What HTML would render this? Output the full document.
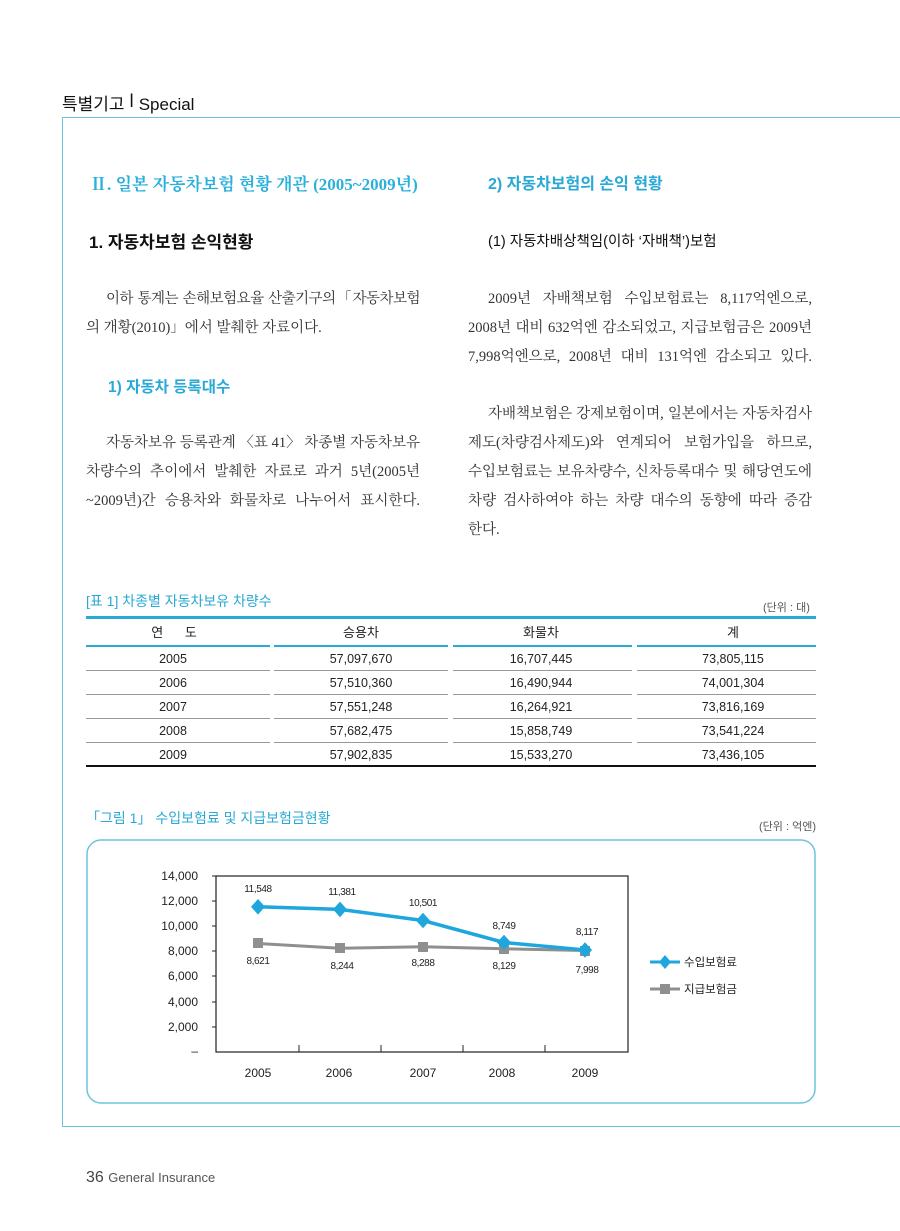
<!DOCTYPE html>
<html><head><meta charset="utf-8"><style>
body{margin:0;width:900px;height:1231px;background:#fff;position:relative;overflow:hidden;font-family:"Liberation Sans","Noto Sans CJK KR",sans-serif;color:#222}
.a{position:absolute;white-space:nowrap}
.blue{color:#29a9d6}
.j{position:absolute;height:29px;line-height:29px;text-align:justify;text-align-last:justify;white-space:nowrap;font-family:"Liberation Serif","Noto Serif CJK SC","Noto Sans CJK KR",serif;font-size:14.5px;color:#333}
.L{left:86px;width:334px}.R{left:468px;width:344px}
.n{text-align-last:left}
</style></head><body>
<div class="a" style="left:62px;top:90px;font-size:17px;color:#111">특별기고 <span style="font-size:18px;position:relative;top:-3px">ǀ</span> Special</div>
<div class="a" style="left:62px;top:117px;width:838px;height:1008px;border-top:1.5px solid #6cc3de;border-left:1.5px solid #6cc3de;border-bottom:1.5px solid #6cc3de"></div>

<div class="a" style="left:90px;top:170px;font-size:17px;color:#2ab0dc;font-family:'Liberation Serif','Noto Serif CJK SC',serif;font-weight:bold">Ⅱ. 일본 자동차보험 현황 개관 (2005~2009년)</div>
<div class="a" style="left:89px;top:228px;font-size:17px;font-weight:bold;color:#111">1. 자동차보험 손익현황</div>
<div class="j L" style="top:285px;padding-left:20px;width:314px;letter-spacing:-0.5px">이하 통계는 손해보험요율 산출기구의「자동차보험</div>
<div class="j L n" style="top:314px">의 개황(2010)」에서 발췌한 자료이다.</div>
<div class="a blue" style="left:108px;top:375px;font-size:15.5px;font-weight:bold">1) 자동차 등록대수</div>
<div class="j L" style="top:429px;padding-left:20px;width:314px">자동차보유 등록관계 〈표 41〉 차종별 자동차보유</div>
<div class="j L" style="top:458px">차량수의 추이에서 발췌한 자료로 과거 5년(2005년</div>
<div class="j L" style="top:487px">~2009년)간 승용차와 화물차로 나누어서 표시한다.</div>

<div class="a blue" style="left:488px;top:170px;font-size:16px;font-weight:bold">2) 자동차보험의 손익 현황</div>
<div class="a" style="left:488px;top:230px;font-size:14.5px;color:#111">(1) 자동차배상책임(이하 ‘자배책’)보험</div>
<div class="j R" style="top:285px;padding-left:20px;width:324px">2009년 자배책보험 수입보험료는 8,117억엔으로,</div>
<div class="j R" style="top:314px">2008년 대비 632억엔 감소되었고, 지급보험금은 2009년</div>
<div class="j R" style="top:343px">7,998억엔으로, 2008년 대비 131억엔 감소되고 있다.</div>
<div class="j R" style="top:400px;padding-left:20px;width:324px">자배책보험은 강제보험이며, 일본에서는 자동차검사</div>
<div class="j R" style="top:429px">제도(차량검사제도)와 연계되어 보험가입을 하므로,</div>
<div class="j R" style="top:458px">수입보험료는 보유차량수, 신차등록대수 및 해당연도에</div>
<div class="j R" style="top:487px">차량 검사하여야 하는 차량 대수의 동향에 따라 증감</div>
<div class="j R n" style="top:516px">한다.</div>

<div class="a blue" style="left:86px;top:591px;font-size:14px">[표 1] 차종별 자동차보유 차량수</div>
<div class="a" style="left:763px;top:599px;font-size:11px;color:#555">(단위 : 대)</div>
<div class="a" style="left:86px;top:616px;width:730px;height:3px;background:#29a9d6"></div>
<div class="a" style="left:86px;top:645px;width:184px;height:2px;background:#29a9d6"></div>
<div class="a" style="left:274px;top:645px;width:174px;height:2px;background:#29a9d6"></div>
<div class="a" style="left:453px;top:645px;width:179px;height:2px;background:#29a9d6"></div>
<div class="a" style="left:637px;top:645px;width:179px;height:2px;background:#29a9d6"></div>
<svg class="a" style="left:0;top:0" width="900" height="1231">
<g font-family="Liberation Sans, Noto Sans CJK KR, sans-serif" font-size="13" fill="#222" text-anchor="middle">
<text x="174" y="637">연&#160;&#160;&#160;&#160;&#160;&#160;도</text><text x="361" y="637">승용차</text><text x="541" y="637">화물차</text><text x="733" y="637">계</text>
</g>
<g stroke="#999" stroke-width="1">
<line x1="86" y1="670.5" x2="270" y2="670.5"/><line x1="274" y1="670.5" x2="448" y2="670.5"/><line x1="453" y1="670.5" x2="632" y2="670.5"/><line x1="637" y1="670.5" x2="816" y2="670.5"/>
<line x1="86" y1="694.5" x2="270" y2="694.5"/><line x1="274" y1="694.5" x2="448" y2="694.5"/><line x1="453" y1="694.5" x2="632" y2="694.5"/><line x1="637" y1="694.5" x2="816" y2="694.5"/>
<line x1="86" y1="718.5" x2="270" y2="718.5"/><line x1="274" y1="718.5" x2="448" y2="718.5"/><line x1="453" y1="718.5" x2="632" y2="718.5"/><line x1="637" y1="718.5" x2="816" y2="718.5"/>
<line x1="86" y1="742.5" x2="270" y2="742.5"/><line x1="274" y1="742.5" x2="448" y2="742.5"/><line x1="453" y1="742.5" x2="632" y2="742.5"/><line x1="637" y1="742.5" x2="816" y2="742.5"/>
</g>
<line x1="86" y1="766" x2="816" y2="766" stroke="#111" stroke-width="2"/>
<g font-family="Liberation Sans, sans-serif" font-size="12.5" fill="#222" text-anchor="middle">
<text x="173" y="663">2005</text><text x="361" y="663">57,097,670</text><text x="541" y="663">16,707,445</text><text x="733" y="663">73,805,115</text>
<text x="173" y="687">2006</text><text x="361" y="687">57,510,360</text><text x="541" y="687">16,490,944</text><text x="733" y="687">74,001,304</text>
<text x="173" y="711">2007</text><text x="361" y="711">57,551,248</text><text x="541" y="711">16,264,921</text><text x="733" y="711">73,816,169</text>
<text x="173" y="735">2008</text><text x="361" y="735">57,682,475</text><text x="541" y="735">15,858,749</text><text x="733" y="735">73,541,224</text>
<text x="173" y="759">2009</text><text x="361" y="759">57,902,835</text><text x="541" y="759">15,533,270</text><text x="733" y="759">73,436,105</text>
</g>

<text x="86" y="823" font-family="Liberation Sans, Noto Sans CJK KR, sans-serif" font-size="14" fill="#29a9d6">「그림 1」 수입보험료 및 지급보험금현황</text>
<text x="816" y="830" text-anchor="end" font-family="Liberation Sans, Noto Sans CJK KR, sans-serif" font-size="11" fill="#555">(단위 : 억엔)</text>
<rect x="87" y="840" width="728" height="263" rx="14" fill="none" stroke="#6cc3de" stroke-width="1.5"/>

<rect x="216" y="876" width="412" height="176" fill="none" stroke="#222" stroke-width="1.2"/>
<g stroke="#222" stroke-width="1">
<line x1="212" y1="876" x2="216" y2="876"/><line x1="212" y1="901" x2="216" y2="901"/><line x1="212" y1="926" x2="216" y2="926"/><line x1="212" y1="951" x2="216" y2="951"/><line x1="212" y1="976" x2="216" y2="976"/><line x1="212" y1="1002" x2="216" y2="1002"/><line x1="212" y1="1027" x2="216" y2="1027"/>
<line x1="299" y1="1045" x2="299" y2="1052"/><line x1="381" y1="1045" x2="381" y2="1052"/><line x1="463" y1="1045" x2="463" y2="1052"/><line x1="545" y1="1045" x2="545" y2="1052"/>
</g>
<g font-family="Liberation Sans, sans-serif" font-size="12" fill="#222" text-anchor="end">
<text x="198" y="880">14,000</text><text x="198" y="905">12,000</text><text x="198" y="930">10,000</text><text x="198" y="955">8,000</text><text x="198" y="980">6,000</text><text x="198" y="1006">4,000</text><text x="198" y="1031">2,000</text><text x="198" y="1055">–</text>
</g>
<g font-family="Liberation Sans, sans-serif" font-size="12" fill="#222" text-anchor="middle">
<text x="258" y="1077">2005</text><text x="339" y="1077">2006</text><text x="423" y="1077">2007</text><text x="502" y="1077">2008</text><text x="585" y="1077">2009</text>
</g>
<polyline points="258,943.5 340,948.2 423,946.7 504,948.8 585,950.5" fill="none" stroke="#8f8f8f" stroke-width="3"/>
<g fill="#8f8f8f"><rect x="253" y="938" width="10" height="10"/><rect x="335" y="943" width="10" height="10"/><rect x="418" y="942" width="10" height="10"/><rect x="499" y="944" width="10" height="10"/><rect x="580" y="946" width="10" height="10"/></g>
<polyline points="258,906.8 340,909.4 423,920.5 504,942.5 585,950" fill="none" stroke="#1fa6dc" stroke-width="3.5"/>
<g fill="#1fa6dc"><path d="M258,899l7,7.8-7,7.8-7-7.8z"/><path d="M340,901.6l7,7.8-7,7.8-7-7.8z"/><path d="M423,912.7l7,7.8-7,7.8-7-7.8z"/><path d="M504,934.7l7,7.8-7,7.8-7-7.8z"/><path d="M585,942.2l7,7.8-7,7.8-7-7.8z"/></g>
<g font-family="Liberation Sans, sans-serif" font-size="10" fill="#222" text-anchor="middle" letter-spacing="-0.4">
<text x="258" y="892">11,548</text><text x="342" y="895">11,381</text><text x="423" y="906">10,501</text><text x="504" y="929">8,749</text><text x="587" y="935">8,117</text>
<text x="258" y="964">8,621</text><text x="342" y="969">8,244</text><text x="423" y="966">8,288</text><text x="504" y="969">8,129</text><text x="587" y="973">7,998</text>
</g>
<line x1="650" y1="962" x2="680" y2="962" stroke="#1fa6dc" stroke-width="3"/><path d="M665,955l6,7-6,7-6-7z" fill="#1fa6dc"/>
<text x="684" y="966" font-family="Liberation Sans, Noto Sans CJK KR, sans-serif" font-size="11.5" fill="#222">수입보험료</text>
<line x1="650" y1="989" x2="680" y2="989" stroke="#8f8f8f" stroke-width="3"/><rect x="660" y="984" width="10" height="10" fill="#8f8f8f"/>
<text x="684" y="993" font-family="Liberation Sans, Noto Sans CJK KR, sans-serif" font-size="11.5" fill="#222">지급보험금</text>
</svg>
<div class="a" style="left:86px;top:1169px;font-size:16px;color:#444">36 <span style="font-size:13px;color:#555">General Insurance</span></div>
</body></html>
